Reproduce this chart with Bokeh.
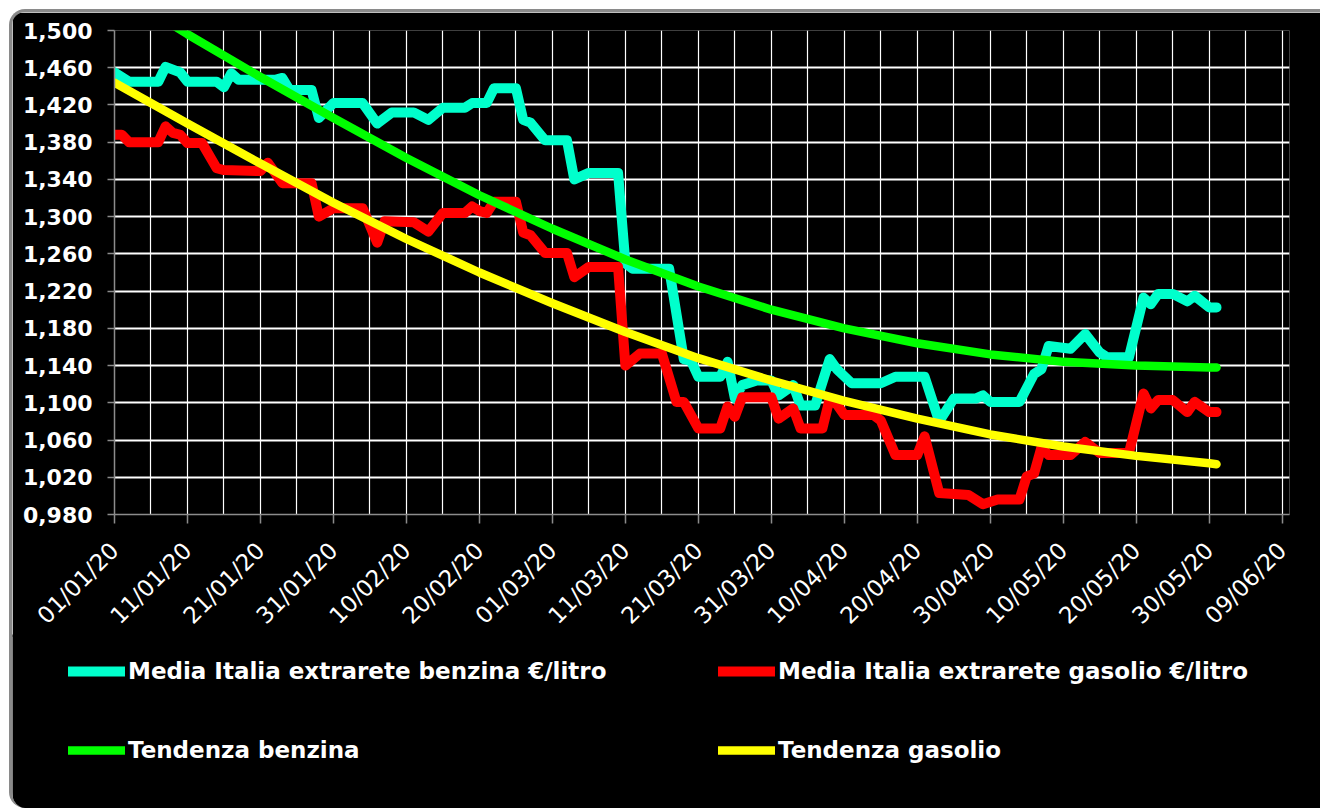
import math
from datetime import datetime, timedelta

from bokeh.plotting import figure
from bokeh.models import (FixedTicker, DatetimeTickFormatter, CustomJSTickFormatter,
                          Range1d, Legend, LegendItem)
from bokeh.embed import file_html
from bokeh.resources import INLINE

# ---------------- data (day offsets from 01/01/2020) ----------------
START = datetime(2020, 1, 1)

benzina_days = [0, 2, 6, 7, 9, 10, 14, 15, 16, 17, 22, 23, 24, 27, 28, 30, 34, 36, 38, 41,
                43, 45, 48, 49, 51, 52, 55, 56, 57, 59, 62, 63, 65, 69, 70, 71, 76, 78, 79, 80,
                83, 84, 85, 86, 88, 90, 91, 93, 94, 96, 98, 99, 101, 105, 107, 111, 113, 115,
                118, 119, 120, 124, 126, 127, 128, 131, 133, 135, 136, 139, 141, 142, 143, 145,
                147, 148, 150, 151]
benzina_vals = [1.455, 1.445, 1.445, 1.461, 1.455, 1.445, 1.445, 1.439, 1.454, 1.447, 1.447,
                1.449, 1.436, 1.436, 1.406, 1.422, 1.422, 1.400, 1.412, 1.412, 1.404, 1.417,
                1.417, 1.422, 1.422, 1.438, 1.438, 1.404, 1.401, 1.382, 1.382, 1.340, 1.347,
                1.347, 1.250, 1.244, 1.244, 1.147, 1.145, 1.128, 1.128, 1.144, 1.105, 1.119,
                1.124, 1.124, 1.108, 1.119, 1.097, 1.097, 1.147, 1.136, 1.121, 1.121, 1.128,
                1.128, 1.080, 1.1045, 1.1045, 1.108, 1.101, 1.101, 1.131, 1.136, 1.161, 1.158,
                1.174, 1.154, 1.149, 1.149, 1.213, 1.206, 1.217, 1.217, 1.209, 1.215, 1.2025,
                1.2025]

gasolio_days = [0, 1, 2, 6, 7, 8, 9, 10, 12, 14, 15, 20, 21, 23, 27, 28, 30, 34, 36, 37,
                41, 43, 45, 48, 49, 50, 51, 52, 55, 56, 57, 59, 62, 63, 65, 69, 70, 72, 75,
                77, 78, 80, 83, 84, 85, 86, 90, 91, 93, 94, 97, 98, 99, 100, 104, 105, 107,
                110, 111, 113, 117, 119, 121, 124, 125, 126, 127, 128, 131, 133, 135, 139,
                141, 142, 143, 145, 147, 148, 150, 151]
gasolio_vals = [1.388, 1.388, 1.380, 1.380, 1.397, 1.390, 1.388, 1.379, 1.379, 1.352, 1.350,
                1.349, 1.358, 1.336, 1.336, 1.300, 1.309, 1.309, 1.272, 1.295, 1.294, 1.284,
                1.304, 1.304, 1.311, 1.306, 1.304, 1.316, 1.316, 1.283, 1.280, 1.261, 1.261,
                1.235, 1.246, 1.246, 1.140, 1.153, 1.153, 1.101, 1.101, 1.0725, 1.0725, 1.096,
                1.085, 1.106, 1.106, 1.083, 1.094, 1.0725, 1.0725, 1.1045, 1.098, 1.087, 1.087,
                1.081, 1.044, 1.044, 1.064, 1.003, 1.001, 0.991, 0.996, 0.996, 1.021, 1.024,
                1.052, 1.044, 1.044, 1.058, 1.046, 1.046, 1.110, 1.094, 1.103, 1.103, 1.090,
                1.101, 1.090, 1.090]

trend_days = [0, 10, 20, 30, 40, 50, 60, 70, 80, 90, 100, 110, 120, 130, 140, 150, 151]
tend_benzina = [1.545, 1.496, 1.450, 1.406, 1.363, 1.323, 1.287, 1.254, 1.225, 1.200, 1.180,
                1.164, 1.152, 1.144, 1.140, 1.138, 1.138]
tend_gasolio = [1.444, 1.400, 1.357, 1.315, 1.276, 1.240, 1.207, 1.176, 1.148, 1.124, 1.102,
                1.083, 1.066, 1.053, 1.043, 1.035, 1.034]

x_tick_days = list(range(0, 161, 10))
x_grid_days = list(range(5, 161, 5))
y_ticks = [0.980, 1.020, 1.060, 1.100, 1.140, 1.180, 1.220, 1.260, 1.300, 1.340, 1.380,
           1.420, 1.460, 1.500]

labels = ["Media Italia extrarete benzina €/litro", "Media Italia extrarete gasolio €/litro",
          "Tendenza benzina", "Tendenza gasolio"]
colors = ["#00FFCC", "#FF0000", "#00FF00", "#FFFF00"]

# ---------------- helpers ----------------
EPOCH = datetime(1970, 1, 1)


def dts(days):
    return [START + timedelta(days=d) for d in days]


def ms(days):
    return [((START + timedelta(days=d)) - EPOCH).total_seconds() * 1000.0 for d in days]


GRAY = "#8a8a8a"

p = figure(width=1311, height=628, x_axis_type="datetime",
           x_range=Range1d(START, START + timedelta(days=161)),
           y_range=Range1d(0.98, 1.5),
           output_backend="svg", toolbar_location=None,
           background_fill_color="black", border_fill_color="black",
           outline_line_color=None,
           min_border_left=102, min_border_right=34, min_border_top=18,
           min_border_bottom=124)
p.margin = (9, 0, 0, 9)
p.styles = {"border-left": f"3px solid {GRAY}", "border-top": f"3px solid {GRAY}",
            "border-top-left-radius": "16px", "overflow": "hidden"}

# grids
p.xgrid.ticker = FixedTicker(ticks=ms(x_grid_days))
p.xgrid.grid_line_color = "white"
p.xgrid.grid_line_width = 1.2
p.ygrid.ticker = FixedTicker(ticks=[t for t in y_ticks if 0.99 < t < 1.49])
p.ygrid.grid_line_color = "white"
p.ygrid.grid_line_width = 2

# x axis
xa = p.xaxis[0]
xa.ticker = FixedTicker(ticks=ms(x_tick_days))
fmt = "%d/%m/%y"
xa.formatter = DatetimeTickFormatter(microseconds=fmt, milliseconds=fmt, seconds=fmt,
                                     minsec=fmt, minutes=fmt, hourmin=fmt, hours=fmt,
                                     days=fmt, months=fmt, years=fmt)
xa.major_label_orientation = math.pi / 4
xa.major_label_text_color = "white"
xa.major_label_text_font = "DejaVu Sans"
xa.major_label_text_font_size = "23px"
xa.major_label_standoff = 23
xa.major_tick_out = 9
xa.major_tick_in = 0
xa.minor_tick_line_color = None
xa.axis_line_color = "#8c8c8c"
xa.axis_line_width = 1.5
xa.major_tick_line_color = "#8c8c8c"
xa.major_tick_line_width = 1.5

# y axis
ya = p.yaxis[0]
ya.ticker = FixedTicker(ticks=y_ticks)
ya.formatter = CustomJSTickFormatter(code="return tick.toFixed(3).replace('.', ',');")
ya.major_label_text_color = "white"
ya.major_label_text_font = "DejaVu Sans"
ya.major_label_text_font_style = "bold"
ya.major_label_text_font_size = "22px"
ya.major_label_standoff = 15
ya.major_tick_out = 7
ya.major_tick_in = 0
ya.minor_tick_line_color = None
ya.axis_line_color = "#8c8c8c"
ya.axis_line_width = 1.5
ya.major_tick_line_color = "#8c8c8c"
ya.major_tick_line_width = 1.5

# lines
line_kw = dict(line_join="round", line_cap="round")
widths = [10, 10, 8.5, 8.5]
series = [(benzina_days, benzina_vals), (gasolio_days, gasolio_vals),
          (trend_days, tend_benzina), (trend_days, tend_gasolio)]
for (d, v), c, w in zip(series, colors, widths):
    p.line(dts(d), v, line_color=c, line_width=w, **line_kw)

# ---------------- legend strip below the chart (separate root, same series) ----------------
Q_H = 174
q = figure(width=1311, height=Q_H, output_backend="svg", toolbar_location=None,
           x_axis_type="datetime", x_axis_location=None, y_axis_location=None,
           x_range=Range1d(START - timedelta(days=400), START - timedelta(days=399)),
           y_range=Range1d(0.98, 1.5),
           background_fill_color="black", border_fill_color="black",
           outline_line_color=None, min_border=0,
           min_border_left=0, min_border_right=0, min_border_top=0, min_border_bottom=0)
q.grid.visible = False
q.margin = (-3, 0, 0, 9)
q.styles = {"border-left": f"3px solid {GRAY}", "border-bottom-left-radius": "16px",
            "overflow": "hidden"}

keys = [q.line(dts(d), v, line_color=c, line_width=w, **line_kw)
        for (d, v), c, w in zip(series, colors, widths)]


def make_legend(idx, loc):
    return Legend(items=[LegendItem(label=labels[i], renderers=[keys[i]]) for i in idx],
                  location=loc, orientation="vertical",
                  glyph_width=57, glyph_height=20, label_height=20, label_standoff=3,
                  spacing=53, padding=0, margin=0, border_line_color=None,
                  background_fill_alpha=0,
                  label_text_color="white", label_text_font="DejaVu Sans",
                  label_text_font_style="bold", label_text_font_size="23px")


q.add_layout(make_legend([0, 2], (56, 45)), "center")
q.add_layout(make_legend([1, 3], (706, 45)), "center")

open("out.html", "w").write(file_html([p, q], INLINE))
